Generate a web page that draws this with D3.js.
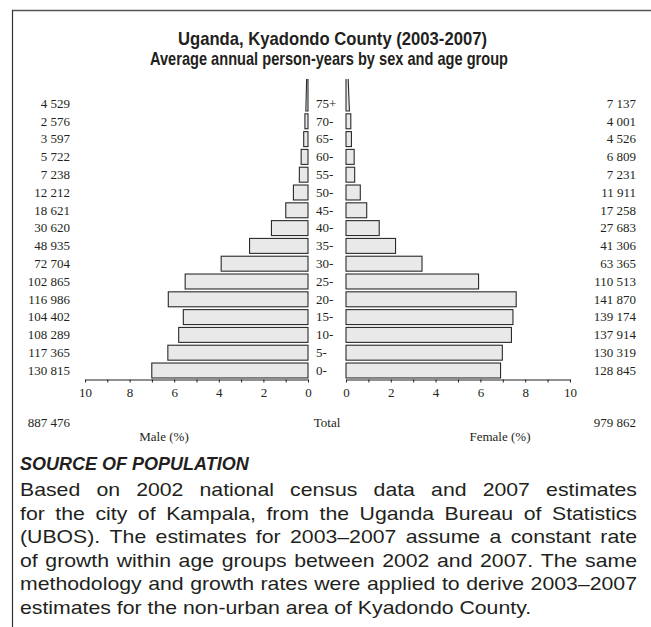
<!DOCTYPE html>
<html>
<head>
<meta charset="utf-8">
<script src="https://cdn.jsdelivr.net/npm/d3@7"></script>
<style>
  html, body { margin: 0; padding: 0; background: #fff; }
  svg { display: block; }
</style>
</head>
<body>
<svg id="chart" width="651" height="627"></svg>
<script>
// ---------------- DATA ----------------
const ages = ["0-","5-","10-","15-","20-","25-","30-","35-","40-","45-","50-","55-","60-","65-","70-","75+"];
const maleCounts   = [130815,117365,108289,104402,116986,102865,72704,48935,30620,18621,12212,7238,5722,3597,2576,4529];
const femaleCounts = [128845,130319,137914,139174,141870,110513,63365,41306,27683,17258,11911,7231,6809,4526,4001,7137];
const maleTotal = 887476;
const femaleTotal = 979862;
const tickValues = [0,1,2,3,4,5,6,7,8,9,10];
const titleLines = ["Uganda, Kyadondo County (2003-2007)", "Average annual person-years by sex and age group"];
const sourceHeading = "SOURCE OF POPULATION";
const sourceLines = [
  "Based on 2002 national census data and 2007 estimates",
  "for the city of Kampala, from the Uganda Bureau of Statistics",
  "(UBOS). The estimates for 2003–2007 assume a constant rate",
  "of growth within age groups between 2002 and 2007. The same",
  "methodology and growth rates were applied to derive 2003–2007",
  "estimates for the non-urban area of Kyadondo County."
];

// ---------------- SETUP ----------------
const svg = d3.select("#chart");
const serif = "'Liberation Serif', 'Times New Roman', serif";
const sans = "'Liberation Sans', Arial, Helvetica, sans-serif";
const textCol = "#231f20";
const grandTotal = maleTotal + femaleTotal;
const fmt = d3.formatLocale({decimal: ".", thousands: " ", grouping: [3], currency: ["", ""]}).format(",d");

// frame
svg.append("line").attr("x1", 12).attr("x2", 651).attr("y1", 10.5).attr("y2", 10.5)
  .attr("stroke", "#555").attr("stroke-width", 1.6);
svg.append("line").attr("x1", 12.5).attr("x2", 12.5).attr("y1", 10).attr("y2", 627)
  .attr("stroke", "#333").attr("stroke-width", 1.2);

// title
titleLines.forEach((t, i) => {
  svg.append("text")
    .attr("x", [178, 150][i]).attr("y", [45, 65][i])
    .attr("font-family", sans).attr("font-weight", "bold").attr("font-size", 19)
    .attr("fill", textCol)
    .attr("textLength", [309, 358][i]).attr("lengthAdjust", "spacingAndGlyphs")
    .text(t);
});

// scales
const y = d3.scaleBand().domain(ages.slice().reverse()).range([94.6, 379.4])
  .paddingInner(0.16).paddingOuter(0.08);
const xM = d3.scaleLinear().domain([0, 10]).range([308, 85]);
const xF = d3.scaleLinear().domain([0, 10]).range([346, 570]);
const pct = v => v / grandTotal * 100;

// clip for open-ended group
svg.append("clipPath").attr("id", "plotclip").append("rect")
  .attr("x", 0).attr("y", 79).attr("width", 651).attr("height", 320);

const barFill = "#e9e9e9", barStroke = "#2a2a2a";
const rowData = ages.map((a, i) => ({age: a, m: maleCounts[i], f: femaleCounts[i]}));
const closed = rowData.filter(d => d.age !== "75+");
const open = rowData.find(d => d.age === "75+");

const bars = svg.append("g");
bars.selectAll("rect.m").data(closed).join("rect")
  .attr("x", d => xM(pct(d.m))).attr("y", d => y(d.age))
  .attr("width", d => xM(0) - xM(pct(d.m))).attr("height", y.bandwidth())
  .attr("fill", barFill).attr("stroke", barStroke).attr("stroke-width", 1.1);
bars.selectAll("rect.f").data(closed).join("rect")
  .attr("x", xF(0)).attr("y", d => y(d.age))
  .attr("width", d => xF(pct(d.f)) - xF(0)).attr("height", y.bandwidth())
  .attr("fill", barFill).attr("stroke", barStroke).attr("stroke-width", 1.1);

// 75+ as a triangle spread over 5 age rows (75-100)
const yBase = y(open.age) + y.bandwidth();
const yApex = y(open.age) + y.step() * (1 - 5) - y.step() * y.paddingInner() / 2;
const tri = svg.append("g").attr("clip-path", "url(#plotclip)");
const mBase = 2 * pct(open.m) / 5, fBase = 2 * pct(open.f) / 5;
tri.append("path")
  .attr("d", `M${xM(0)},${yBase} L${xM(mBase)},${yBase} L${xM(0)},${yApex} Z`)
  .attr("fill", barFill).attr("stroke", barStroke).attr("stroke-width", 1.1);
tri.append("path")
  .attr("d", `M${xF(0)},${yBase} L${xF(fBase)},${yBase} L${xF(0)},${yApex} Z`)
  .attr("fill", barFill).attr("stroke", barStroke).attr("stroke-width", 1.1);

// axes
function styleAxis(g) {
  g.select(".domain").attr("stroke", "#222").attr("stroke-width", 1);
  g.selectAll(".tick line").attr("stroke", "#222");
  g.selectAll(".tick text").attr("font-family", serif).attr("font-size", 13).attr("fill", textCol);
}
const axisM = d3.axisBottom(xM).tickValues(tickValues).tickSize(3).tickSizeOuter(0)
  .tickFormat(d => d % 2 === 0 ? d : "").tickPadding(5);
const axisF = d3.axisBottom(xF).tickValues(tickValues).tickSize(3).tickSizeOuter(0)
  .tickFormat(d => d % 2 === 0 ? d : "").tickPadding(5);
svg.append("g").attr("transform", "translate(0,379.5)").call(axisM).call(styleAxis);
svg.append("g").attr("transform", "translate(0,379.5)").call(axisF).call(styleAxis);

// labels
const lab = svg.append("g").attr("font-family", serif).attr("font-size", 13).attr("fill", textCol);
lab.selectAll("text.ml").data(rowData).join("text")
  .attr("x", 70).attr("y", d => y(d.age) + y.bandwidth() / 2 + 4.3)
  .attr("text-anchor", "end").text(d => fmt(d.m));
lab.selectAll("text.fl").data(rowData).join("text")
  .attr("x", 636).attr("y", d => y(d.age) + y.bandwidth() / 2 + 4.3)
  .attr("text-anchor", "end").text(d => fmt(d.f));
lab.selectAll("text.al").data(rowData).join("text")
  .attr("x", 316).attr("y", d => y(d.age) + y.bandwidth() / 2 + 4.3)
  .text(d => d.age);

lab.append("text").attr("x", 70).attr("y", 427).attr("text-anchor", "end").text(fmt(maleTotal));
lab.append("text").attr("x", 636).attr("y", 427).attr("text-anchor", "end").text(fmt(femaleTotal));
lab.append("text").attr("x", 327).attr("y", 427).attr("text-anchor", "middle").text("Total");
lab.append("text").attr("x", 164).attr("y", 441).attr("text-anchor", "middle").text("Male (%)");
lab.append("text").attr("x", 500).attr("y", 441).attr("text-anchor", "middle").text("Female (%)");

// source block
svg.append("text").attr("x", 20).attr("y", 470)
  .attr("font-family", sans).attr("font-weight", "bold").attr("font-style", "italic")
  .attr("font-size", 18).attr("fill", textCol).text(sourceHeading);

const left = 20, right = 637, bodySize = 18.5;
const body = svg.append("g").attr("font-family", sans).attr("font-size", bodySize).attr("fill", textCol);
// measure natural word widths
const measured = sourceLines.map((line, i) => {
  const words = line.split(" ");
  const nodes = words.map(w => body.append("text").attr("y", 496 + i * 23.6).text(w));
  const widths = nodes.map(n => n.node().getComputedTextLength());
  return {words, nodes, widths};
});
const space = bodySize * 0.278;
// horizontal stretch so that the tightest justified line sets naturally
const ref = measured[4];
const k = 612 / (d3.sum(ref.widths) + space * (ref.words.length - 1));
measured.forEach((m, i) => {
  const last = i === measured.length - 1;
  const sw = m.widths.map(w => w * k);
  const gap = last ? space * k : (right - left - d3.sum(sw)) / (m.words.length - 1);
  let x = left;
  m.nodes.forEach((n, j) => {
    n.attr("x", x).attr("textLength", sw[j]).attr("lengthAdjust", "spacingAndGlyphs");
    x += sw[j] + gap;
  });
});
</script>
</body>
</html>
